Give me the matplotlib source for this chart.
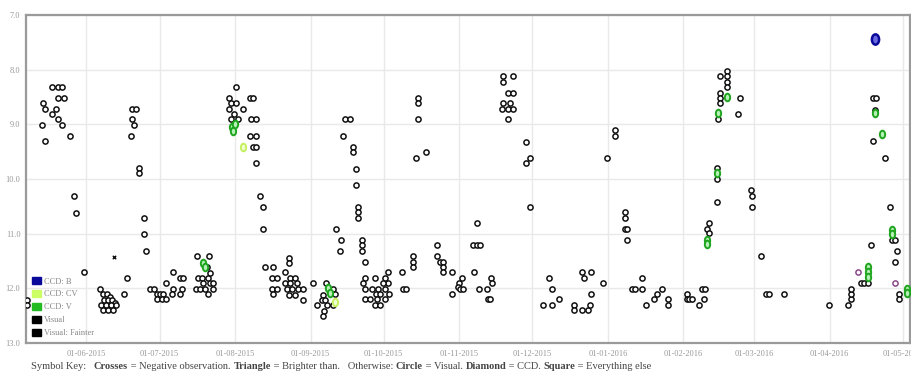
"""
Light curve (visual + CCD estimates), May 2015 - May 2016.
Writes out.png
"""
import matplotlib

matplotlib.use("Agg")
import matplotlib.dates as mdates
import matplotlib.pyplot as plt
import numpy as np
import pandas as pd
from matplotlib.patches import Patch
from matplotlib.path import Path
from matplotlib.transforms import Affine2D

# ---------------------------------------------------------------------------
# Data: days after 01-06-2015, magnitude
# ---------------------------------------------------------------------------
BASE = pd.Timestamp("2015-06-01")

vis_day = [
    -14.3, -11.5, -10.2, -11.5, -9.4, -18.0, -17.2, -12.3, -14.3, -11.5, -10.2, -18.4, -6.6, -17.2, -5.3, -4.1, -1.2, -24.2, -24.2,
    5.7, 7.0, 8.6, 9.8, 7.4, 9.0, 10.7, 11.9, 6.1, 8.2, 10.2, 7.0, 9.0, 11.1, 12.3, 15.6, 16.8,
    18.9, 20.5, 18.9, 19.7, 18.4, 21.7, 21.7, 23.8, 23.8, 24.6,
    26.2, 27.9, 29.1, 30.3, 31.6, 29.1, 31.1, 32.8, 32.8, 35.7, 38.5, 39.8, 35.7, 39.3, 35.2, 38.5,
    45.5, 50.4, 49.6, 50.8, 45.9, 47.5, 50.0, 45.1, 46.7, 48.0, 50.8, 52.0, 48.8, 52.0, 50.0,
    61.5, 58.6, 59.4, 61.5, 58.6, 64.3, 60.7, 59.4, 62.3, 67.2, 68.4, 67.6, 69.7, 67.2, 69.7, 68.4, 69.7, 69.7,
    71.3, 72.5, 72.5, 73.4, 76.6, 76.2, 78.3, 76.2, 78.3, 76.6,
    83.2, 83.2, 81.6, 83.6, 85.7, 81.6, 83.6, 86.5, 82.4, 84.4, 86.9, 88.9, 83.2, 85.7, 88.9,
    93.0, 98.4, 94.7, 97.1, 96.7, 98.0, 98.8, 97.5, 97.1, 101.2, 102.0, 101.2,
    102.5, 104.5, 104.1, 105.3, 106.1, 108.2, 109.4, 109.4, 110.7, 110.7,
    111.5, 111.5, 111.5, 113.1, 113.1, 113.1, 114.3,
    114.3, 113.5, 114.3, 114.3, 116.4, 118.4, 117.2, 119.7, 118.9, 119.3, 118.4, 120.5, 122.5, 122.5, 122.5,
    123.8, 123.8, 124.2, 121.7, 120.5, 129.5, 129.9, 131.1, 134.0, 134.0, 134.0,
    136.1, 136.1, 136.1, 135.2, 139.3,
    143.9, 143.9, 145.1, 146.3, 146.3, 146.3, 150.0, 150.0, 152.9, 152.5, 154.1, 153.3, 154.5,
    160.2, 158.6, 160.2, 161.5, 159.0, 161.1, 164.3, 164.8, 165.6, 166.0, 166.4,
    170.9, 170.9, 175.0, 173.0, 175.0, 170.9, 173.8, 170.5, 173.0, 175.0, 173.0, 180.3, 182.0, 180.3, 182.0,
    189.8, 191.0, 193.9, 187.3, 191.0, 203.3, 207.0, 204.1, 207.0, 200.0, 200.0, 203.3, 205.7, 206.6, 211.9, 213.5,
    220.9, 220.9, 220.9, 221.7, 221.7, 223.8, 225.0, 227.9, 227.9, 229.5, 232.8, 234.0, 236.1, 238.5, 238.5, 216.8, 216.8,
    246.3, 246.3, 247.1, 248.4, 251.2, 252.5, 253.7, 253.3, 254.5, 255.7, 255.7, 258.6, 258.6, 258.6, 259.4,
    260.2, 260.2, 260.2, 260.2, 262.7, 263.1, 262.7, 262.7, 268.4, 267.6, 272.9, 273.0, 273.0, 277.0, 278.7, 280.3, 286.1,
    304.9, 312.7, 313.9, 313.9, 313.9, 318.0, 319.3, 320.9, 322.1, 323.0, 324.2, 323.8, 323.0, 327.9, 329.9,
    330.7, 332.0, 332.8, 332.0, 333.6, 333.6,
]
vis_mag = [
    8.32, 8.32, 8.32, 8.52, 8.52, 8.61, 8.72, 8.72, 8.81, 8.90, 9.01, 9.01, 9.21, 9.30, 10.31, 10.62, 11.70, 12.21, 12.30,
    12.01, 12.10, 12.10, 12.16, 12.21, 12.21, 12.21, 12.27, 12.30, 12.30, 12.30, 12.40, 12.40, 12.40, 12.30, 12.10, 11.81,
    8.72, 8.72, 8.90, 9.01, 9.21, 9.80, 9.89, 10.71, 11.01, 11.32,
    12.01, 12.01, 12.10, 12.10, 12.10, 12.19, 12.19, 12.19, 11.90, 11.70, 11.81, 11.81, 12.01, 12.01, 12.10, 12.10,
    11.41, 11.41, 11.61, 11.72, 11.81, 11.81, 11.81, 12.01, 12.01, 11.90, 11.90, 11.90, 12.01, 12.01, 12.10,
    8.32, 8.52, 8.61, 8.61, 8.72, 8.72, 8.81, 8.90, 8.90, 8.52, 8.52, 8.90, 8.90, 9.21, 9.21, 9.41, 9.41, 9.71,
    10.31, 10.51, 10.91, 11.61, 11.61, 11.81, 11.81, 12.01, 12.01, 12.10,
    11.44, 11.54, 11.70, 11.81, 11.81, 11.90, 11.90, 11.90, 12.01, 12.01, 12.01, 12.01, 12.12, 12.12, 12.21,
    11.90, 11.90, 12.30, 12.12, 12.21, 12.21, 12.30, 12.41, 12.51, 12.01, 12.10, 12.30,
    10.91, 11.12, 11.32, 9.21, 8.90, 8.90, 9.41, 9.51, 9.82, 10.11,
    10.51, 10.60, 10.71, 11.12, 11.21, 11.32, 11.52,
    11.81, 11.90, 12.01, 12.19, 12.19, 11.81, 12.01, 12.01, 12.10, 12.19, 12.30, 12.30, 12.19, 12.01, 11.81,
    11.70, 11.90, 12.10, 11.90, 12.10, 11.70, 12.01, 12.01, 11.41, 11.52, 11.61,
    8.52, 8.61, 8.90, 9.62, 9.51,
    11.21, 11.41, 11.52, 11.52, 11.61, 11.70, 11.70, 12.10, 11.90, 11.98, 11.81, 12.01, 12.01,
    10.80, 11.21, 11.21, 11.21, 11.70, 12.01, 12.01, 12.19, 12.19, 11.81, 11.90,
    8.12, 8.23, 8.12, 8.43, 8.43, 8.61, 8.61, 8.72, 8.72, 8.72, 8.90, 9.32, 9.62, 9.71, 10.51,
    11.81, 12.01, 12.19, 12.30, 12.30, 11.70, 11.70, 11.81, 12.10, 12.30, 12.40, 12.40, 12.40, 12.30, 11.90, 9.62,
    10.60, 10.71, 10.91, 10.91, 11.12, 12.01, 12.01, 11.81, 12.01, 12.30, 12.19, 12.10, 12.01, 12.19, 12.30, 9.10, 9.21,
    12.10, 12.19, 12.19, 12.19, 12.30, 12.01, 12.01, 12.19, 10.91, 10.80, 10.99, 10.42, 10.00, 9.80, 8.90,
    8.43, 8.52, 8.61, 8.12, 8.02, 8.12, 8.23, 8.32, 8.52, 8.81, 10.20, 10.31, 10.51, 11.41, 12.10, 12.10, 12.10,
    12.30, 12.30, 12.19, 12.10, 12.01, 11.90, 11.90, 11.90, 11.21, 8.52, 8.52, 8.74, 9.30, 9.62, 10.51,
    11.12, 11.12, 11.32, 11.52, 12.10, 12.19,
]

ccdv_day = [48.0, 48.8, 59.8, 60.2, 61.1, 99.2, 100.0, 254.5, 254.5, 258.6, 259.4, 262.7,
            320.9, 320.9, 320.9, 323.8, 326.6, 330.7, 330.7, 336.9, 336.9]
ccdv_mag = [11.54, 11.61, 9.05, 9.12, 8.99, 12.00, 12.09, 11.12, 11.19, 9.89, 8.79, 8.50,
            11.61, 11.70, 11.79, 8.79, 9.18, 10.93, 11.01, 12.01, 12.09]

ccdcv_day = [64.3, 102.0]
ccdcv_mag = [9.41, 12.25]

ccdb_day = [323.8]
ccdb_mag = [7.44]

neg_day = [11.5]
neg_mag = [11.43]

other_day = [316.8, 332.0]
other_mag = [11.70, 11.90]

month_ticks = ["2015-06-01", "2015-07-01", "2015-08-01", "2015-09-01", "2015-10-01", "2015-11-01",
               "2015-12-01", "2016-01-01", "2016-02-01", "2016-03-01", "2016-04-01", "2016-05-01"]
mag_ticks = [7.0, 8.0, 9.0, 10.0, 11.0, 12.0, 13.0]

legend_labels = ["CCD: B", "CCD: CV", "CCD: V", "Visual", "Visual: Fainter"]
legend_colors = ["#0a0a9a", "#ccff66", "#22bb22", "#000000", "#000000"]


def to_num(days):
    return mdates.date2num(BASE + pd.to_timedelta(np.asarray(days), unit="D"))


SERIF = ["Liberation Serif", "DejaVu Serif"]
plt.rcParams["font.family"] = SERIF

fig = plt.figure(figsize=(9.11, 3.76), dpi=100)
ax = fig.add_axes([26 / 911, 1 - 343 / 376, (910 - 26) / 911, (343 - 15) / 376])

ellipse = Path.unit_circle().transformed(Affine2D().scale(0.7, 1.0))

ax.scatter(to_num(vis_day), vis_mag, s=14, marker="o", facecolors="white",
           edgecolors="#111111", linewidths=1.1, zorder=3)
ax.scatter(to_num(other_day), other_mag, s=14, marker="o", facecolors="white",
           edgecolors="#8a4a8a", linewidths=1.1, zorder=3)
ax.scatter(to_num(ccdv_day), ccdv_mag, s=30, marker=ellipse, facecolors="#b6f0b6",
           edgecolors="#1fa51f", linewidths=1.4, zorder=4)
ax.scatter(to_num(ccdcv_day), ccdcv_mag, s=30, marker=ellipse, facecolors="#f0ffd0",
           edgecolors="#c4f060", linewidths=1.4, zorder=4)
ax.scatter(to_num(ccdb_day), ccdb_mag, s=55, marker=ellipse, facecolors="#6a6ae0",
           edgecolors="#0a0a9a", linewidths=1.8, zorder=4)
ax.scatter(to_num(neg_day), neg_mag, s=6, marker="x", color="#111111", linewidths=1.0, zorder=4)

# axes
ax.set_xlim(to_num([-24.8])[0], to_num([338.0])[0])
ax.set_ylim(13.0, 7.0)
ax.set_xticks(mdates.date2num(pd.to_datetime(month_ticks)))
ax.xaxis.set_major_formatter(mdates.DateFormatter("%d-%m-%Y"))
ax.set_yticks(mag_ticks)
ax.set_yticklabels([f"{m:.1f}" for m in mag_ticks])
ax.tick_params(length=0, labelsize=6, labelcolor="#999999", pad=5)
ax.tick_params(axis="y", pad=4)
ax.grid(color="#e9e9e9", linewidth=1.0, zorder=0)
ax.set_axisbelow(True)
for sp in ax.spines.values():
    sp.set_color("#9a9a9a")
    sp.set_linewidth(1.6)

handles = [Patch(facecolor=c, edgecolor=c) for c in legend_colors]
leg = ax.legend(handles, legend_labels, loc="lower left", bbox_to_anchor=(0.0, 0.0),
                frameon=False, fontsize=6, handlelength=1.1, handleheight=0.9,
                handletextpad=0.4, labelspacing=0.55, borderaxespad=0.3, borderpad=0.4)
for t in leg.get_texts():
    t.set_color("#888888")

# caption with bold keywords
pieces = [("Symbol Key:   ", "normal"), ("Crosses", "bold"), (" = Negative observation. ", "normal"),
          ("Triangle", "bold"), (" = Brighter than.   Otherwise: ", "normal"), ("Circle", "bold"),
          (" = Visual. ", "normal"), ("Diamond", "bold"), (" = CCD. ", "normal"), ("Square", "bold"),
          (" = Everything else", "normal")]
renderer = fig.canvas.get_renderer()
x = 31 / 911
for txt, w in pieces:
    t = fig.text(x, 1 - 369 / 376, txt, fontsize=7.5, fontweight=w, color="#444444",
                 va="baseline", ha="left")
    bb = t.get_window_extent(renderer=renderer)
    x += bb.width / fig.bbox.width

fig.savefig("out.png", dpi=100)
